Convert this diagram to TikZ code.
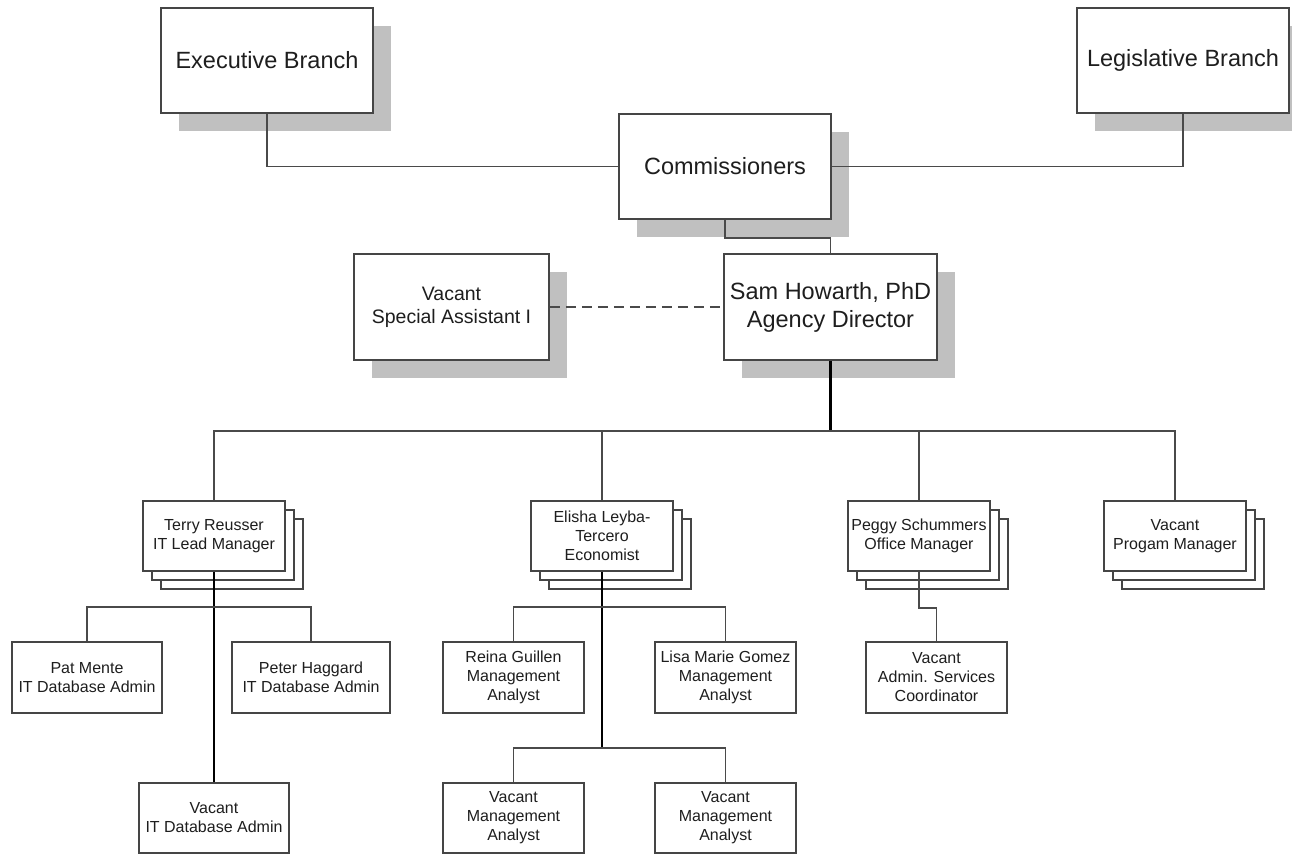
\documentclass[tikz,border=0pt]{standalone}
\usepackage{fontspec}
\setmainfont{Liberation Sans}
\usetikzlibrary{shadows}

\definecolor{boxgray}{HTML}{454545}
\definecolor{shadegray}{HTML}{C0C0C0}
\definecolor{linegray}{HTML}{4A4A4A}
\definecolor{textgray}{HTML}{1E1E1E}

\tikzset{
  box/.style={draw=boxgray, line width=1.6pt, fill=white, rectangle, inner sep=2pt,
    align=center, text=textgray},
  bigbox/.style={box, minimum width=212pt, minimum height=105pt,
    font=\fontsize{23.5}{28}\selectfont,
    drop shadow={shadow xshift=18pt, shadow yshift=-18pt, fill=shadegray, opacity=1}},
  stackbox/.style={box, minimum width=142pt, minimum height=70pt,
    font=\fontsize{16}{19}\selectfont,
    copy shadow={shadow xshift=18pt, shadow yshift=-18pt, draw=boxgray, line width=1.6pt, fill=white},
    copy shadow={shadow xshift=9pt, shadow yshift=-9pt, draw=boxgray, line width=1.6pt, fill=white}},
  smallbox/.style={box, minimum height=71pt, font=\fontsize{16}{19}\selectfont},
  conn/.style={draw=linegray, line width=1.6pt},
  trunk/.style={draw=black, line width=2.2pt}
}

\begin{document}
\begin{tikzpicture}[x=1pt, y=-1pt]
  \useasboundingbox (0,0) rectangle (1292,854);

  % top level
  \node[bigbox] (exec) at (267,60.5) {Executive Branch};
  \node[bigbox] (legis) at (1183,60.5) {Legislative Branch};
  \node[bigbox] (comm) at (725,166.5) {Commissioners};
  \node[bigbox, minimum width=213pt, minimum height=106pt] (dir) at (830.5,307)
    {Sam Howarth, PhD\\Agency Director};
  \node[bigbox, minimum width=195pt, minimum height=106pt,
    font=\fontsize{19.5}{23}\selectfont] (spec) at (451.5,307)
    {Vacant\\Special Assistant I};

  % managers
  \node[stackbox] (terry) at (214,536) {Terry Reusser\\IT Lead Manager};
  \node[stackbox] (elisha) at (602,536) {Elisha Leyba-\\Tercero\\Economist};
  \node[stackbox] (peggy) at (919,536) {Peggy Schummers\\Office Manager};
  \node[stackbox] (prog) at (1175,536) {Vacant\\Progam Manager};

  % staff
  \node[smallbox, minimum width=150pt] (pat) at (87,677.5) {Pat Mente\\IT Database Admin};
  \node[smallbox, minimum width=158pt] (peter) at (311,677.5) {Peter Haggard\\IT Database Admin};
  \node[smallbox, minimum width=150pt, minimum height=70pt] (itvac) at (214,818) {Vacant\\IT Database Admin};
  \node[smallbox, minimum width=141pt] (reina) at (513.5,677.5) {Reina Guillen\\Management\\Analyst};
  \node[smallbox, minimum width=141pt] (lisa) at (725.5,677.5) {Lisa Marie Gomez\\Management\\Analyst};
  \node[smallbox, minimum width=141pt, minimum height=70pt] (vacone) at (513.5,818) {Vacant\\Management\\Analyst};
  \node[smallbox, minimum width=141pt, minimum height=70pt] (vactwo) at (725.5,818) {Vacant\\Management\\Analyst};
  \node[smallbox, minimum width=141pt] (admin) at (936.5,677.5) {Vacant\\Admin. Services\\Coordinator};

  % connectors
  \draw[conn] (exec.south) |- (comm.west);
  \draw[conn] (legis.south) |- (comm.east);
  \draw[conn] (comm.south) -- ++(0,18) -| (dir.north);
  \draw[conn, dash pattern=on 10pt off 6pt] (spec.east) -- (dir.west);

  \coordinate (bar) at (830.5,431);
  \draw[trunk] (dir.south) -- (bar);
  \foreach \n in {terry,elisha,peggy,prog}
    \draw[conn] (bar) -| (\n.north);

  \coordinate (terryfork) at (214,607);
  \draw[trunk] (terry.south) -- (itvac.north);
  \draw[conn] (terryfork) -| (pat.north);
  \draw[conn] (terryfork) -| (peter.north);

  \coordinate (elifork) at (602,607);
  \coordinate (elilow) at (602,748);
  \draw[trunk] (elisha.south) -- (elilow);
  \draw[conn] (elifork) -| (reina.north);
  \draw[conn] (elifork) -| (lisa.north);
  \draw[conn] (elilow) -| (vacone.north);
  \draw[conn] (elilow) -| (vactwo.north);

  \draw[conn] (peggy.south) -- ++(0,36) -| (admin.north);
\end{tikzpicture}
\end{document}
